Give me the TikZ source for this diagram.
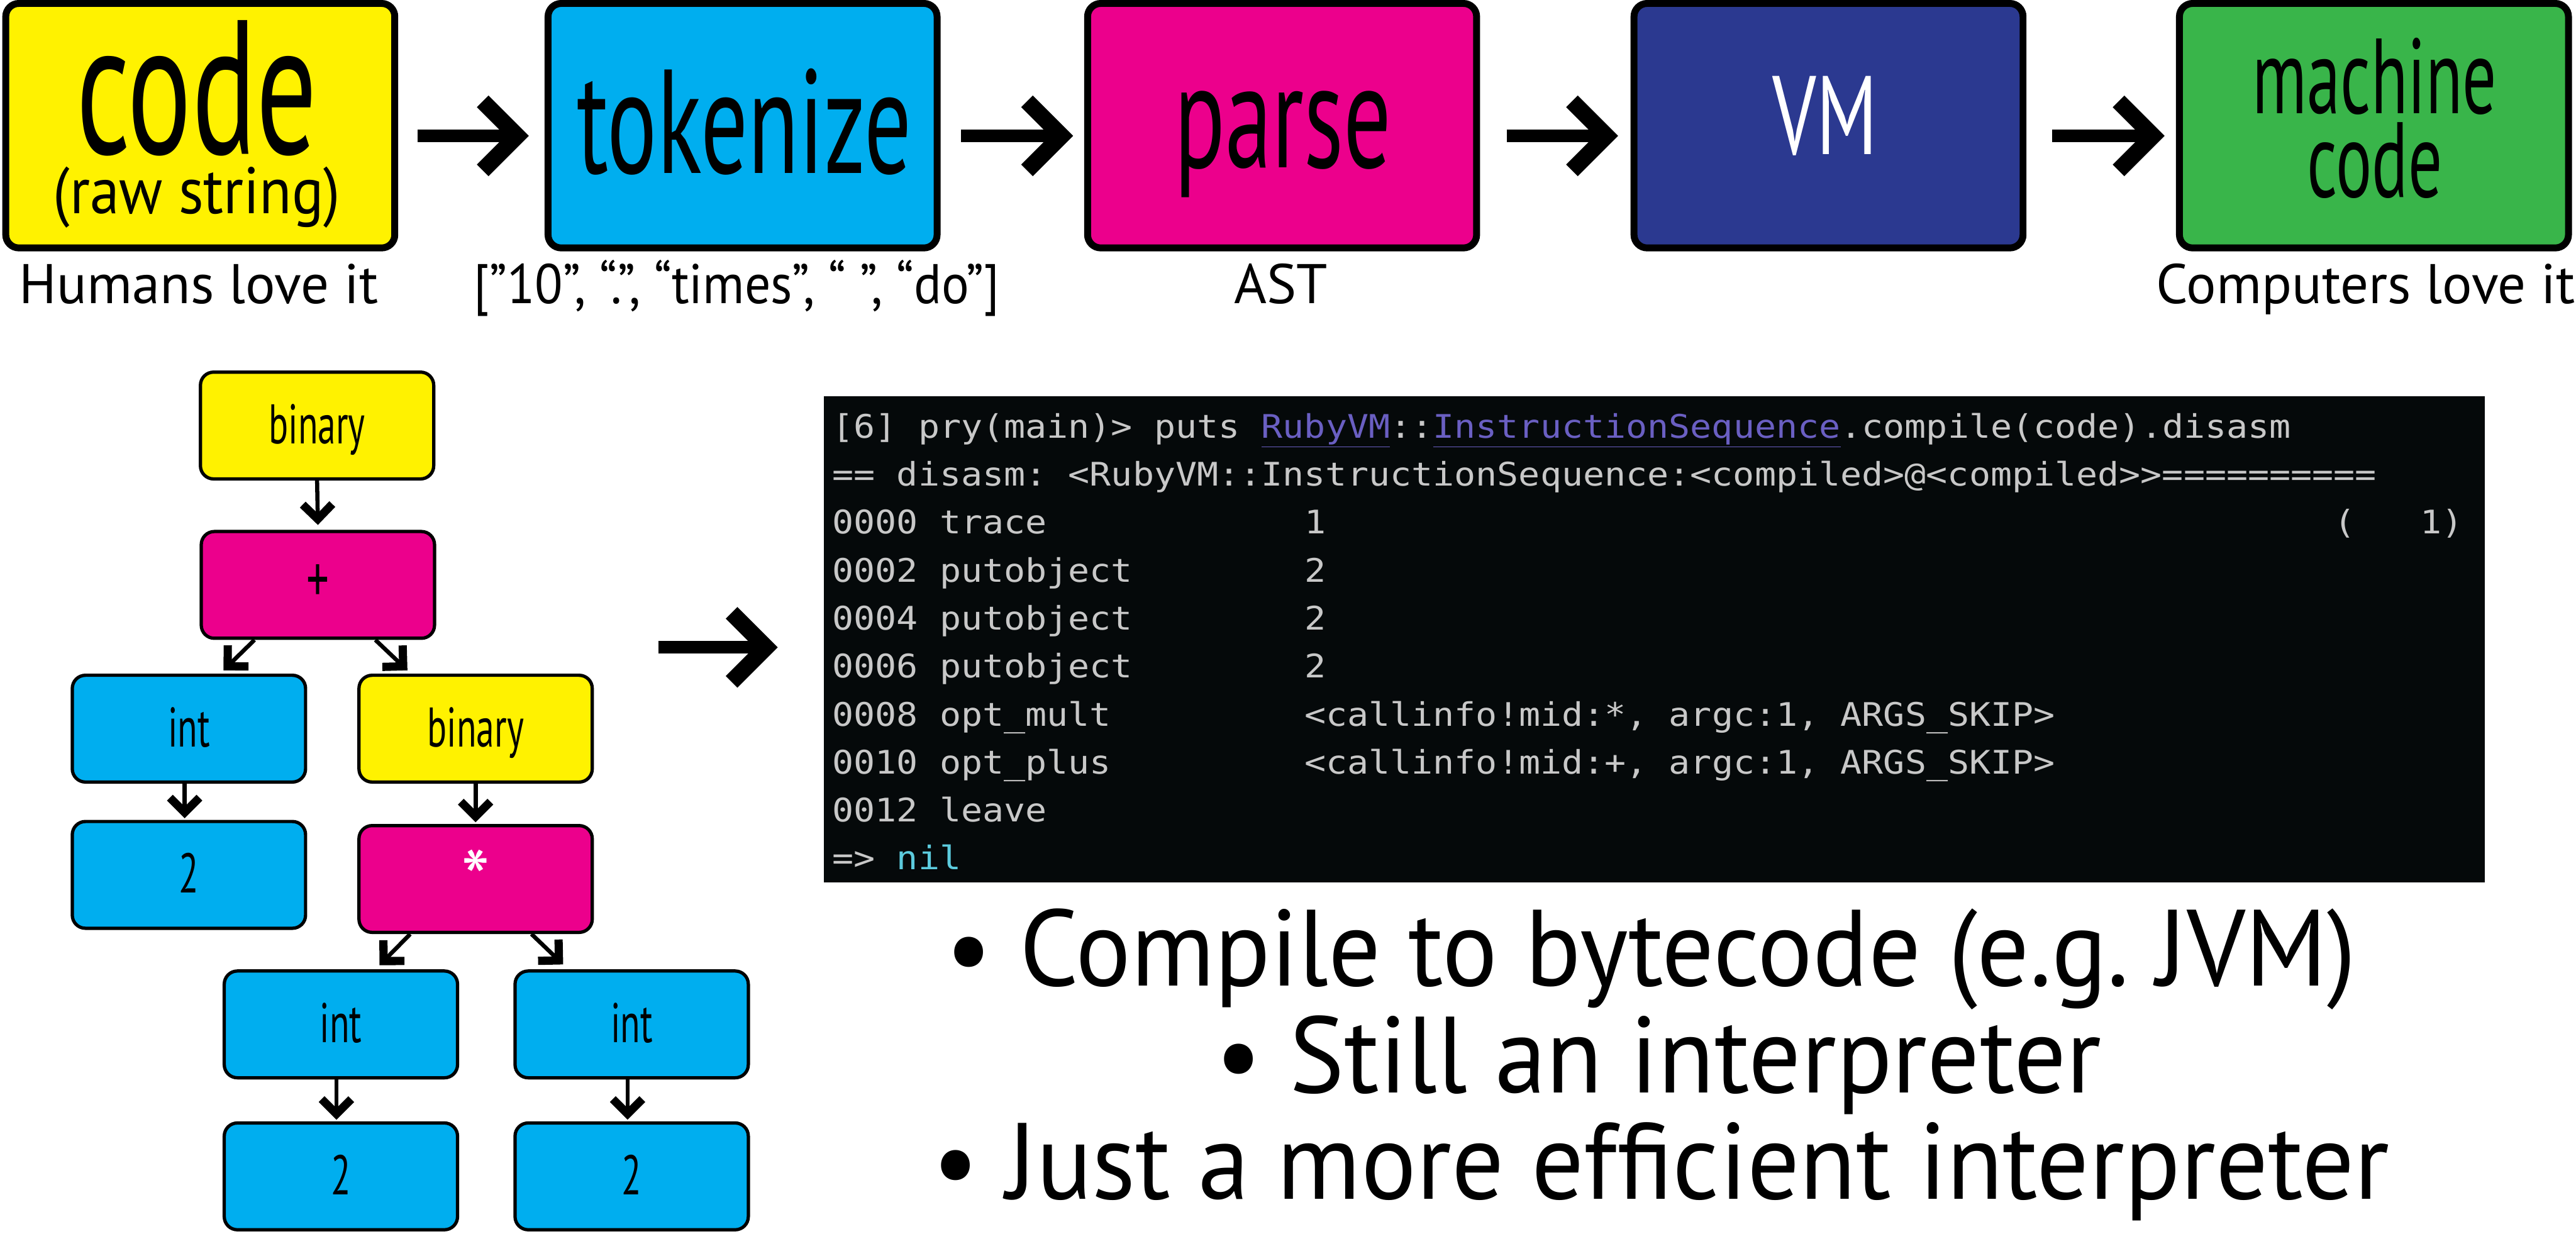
\documentclass[tikz,border=0pt]{standalone}
\usepackage{fontspec}
\setmainfont{PT Sans}
\newfontfamily\condfont[FakeStretch=0.63]{PT Sans}
\newfontfamily\vmfont[FakeStretch=0.69]{PT Sans}
\newfontfamily\rawfont[FakeStretch=0.9]{PT Sans}
\newfontfamily\tokfont[FakeStretch=0.92]{PT Sans}
\newfontfamily\bulfont[FakeStretch=0.953]{PT Sans}
\newfontfamily\treefont[FakeStretch=0.65]{PT Sans}
\newfontfamily\termfont[FakeStretch=1.098]{DejaVu Sans Mono}
\usetikzlibrary{arrows.meta}
\definecolor{cyel}{HTML}{FFF200}
\definecolor{ccyan}{HTML}{00AEEF}
\definecolor{cmag}{HTML}{EC008C}
\definecolor{cblue}{HTML}{2B3990}
\definecolor{cgreen}{HTML}{39B54A}
\definecolor{cterm}{HTML}{05090A}
\definecolor{ctgray}{HTML}{C8C8C8}
\definecolor{tpurple}{HTML}{6A5FC2}
\definecolor{tcyan}{HTML}{5CCBDD}
\newcommand{\setfs}[1]{\fontsize{#1}{#1}\selectfont}
\frenchspacing
\begin{document}
\begin{tikzpicture}[x=1pt,y=-1pt,
  topbox/.style={draw=black, line width=4.2pt, rounded corners=8pt, minimum width=236.8pt, minimum height=148.8pt, inner sep=0pt},
  treebox/.style={draw=black, line width=2pt, rounded corners=8pt, minimum width=142pt, minimum height=65pt, inner sep=0pt, text height=22pt, text depth=0pt, font=\treefont\setfs{34}},
  txt/.style={inner sep=0pt, anchor=base},
  tt/.style={inner sep=0pt, anchor=base west, text=ctgray, font=\termfont\setfs{19.75}},
  bigarrow/.style={line width=7.7pt, -{Straight Barb[length=21pt, width=42pt, line width=10pt, sharp]}},
  tarrow/.style={line width=2.5pt, -{Straight Barb[length=9pt, width=18pt, line width=5pt, sharp]}}]
\useasboundingbox (0,0) rectangle (1568,751);

% ---- top pipeline ----
\node[topbox, fill=cyel] (code) at (121.9,76.5) {};
\node[topbox, fill=ccyan] (tok) at (452,76.5) {};
\node[topbox, fill=cmag] (parse) at (780.4,76.5) {};
\node[topbox, fill=cblue] (vm) at (1113,76.5) {};
\node[topbox, fill=cgreen] (mach) at (1445,76.5) {};

\node[txt, text depth=0pt, font=\condfont\setfs{116}] (codeT) at (119.8,93.6) {code};
\node[txt, text height=26pt, font=\rawfont\setfs{40}] (rawT) at (119.8,130) {(raw string)};
\node[txt, font=\condfont\setfs{90}] (tokT) at (453,105.5) {tokenize};
\node[txt, font=\condfont\setfs{91}] (parseT) at (781,102) {parse};
\node[txt, font=\vmfont\setfs{68}, text=white] (vmT) at (1111,94) {VM};
\node[txt, text depth=0pt, font=\condfont\setfs{65}] (machT) at (1445.5,69) {machine};
\node[txt, text height=44pt, font=\condfont\setfs{65}] (machT2) at (1445.5,120) {code};

\node[txt, font=\setfs{34}] (lab1) at (121,184.8) {Humans love it};
\node[txt, font=\tokfont\setfs{34}] (lab2) at (448.5,184.8) {[”10”, “.”, “times”, “ ”, “do”]};
\node[txt, font=\setfs{34}] (lab3) at (779.6,184.8) {AST};
\node[txt, font=\setfs{34}] (lab4) at (1440,184.8) {Computers love it};

\draw[bigarrow] ([xshift=11.7pt,yshift=-6.2pt]code.east) -- ([xshift=-9.6pt,yshift=-6.2pt]tok.west);
\draw[bigarrow] ([xshift=12.4pt,yshift=-6.2pt]tok.east) -- ([xshift=-6.7pt,yshift=-6.2pt]parse.west);
\draw[bigarrow] ([xshift=16.2pt,yshift=-6.2pt]parse.east) -- ([xshift=-7.6pt,yshift=-6.2pt]vm.west);
\draw[bigarrow] ([xshift=15.6pt,yshift=-6.2pt]vm.east) -- ([xshift=-6.9pt,yshift=-6.2pt]mach.west);

% ---- tree ----
\node[treebox, fill=cyel] (bin1) at (193,259) {binary};
\node[treebox, fill=cmag] (plus) at (193.5,356) {\setfs{42}+};
\node[treebox, fill=ccyan] (intL) at (115,443.5) {int};
\node[treebox, fill=cyel] (binR) at (289.5,443.5) {binary};
\node[treebox, fill=ccyan] (twoL) at (115,532.5) {2};
\node[treebox, fill=cmag, text=white] (star) at (289.5,535) {\raisebox{-7pt}{\rmfamily\setfs{50}*}};
\node[treebox, fill=ccyan] (intBL) at (207.5,623.5) {int};
\node[treebox, fill=ccyan] (intBR) at (384.5,623.5) {int};
\node[treebox, fill=ccyan] (twoBL) at (207.5,716) {2};
\node[treebox, fill=ccyan] (twoBR) at (384.5,716) {2};

\draw[tarrow] (bin1.south) -- ([yshift=3pt]plus.north);
\draw[tarrow] ([xshift=-38.6pt]plus.south) -- ([xshift=21pt,yshift=2pt]intL.north);
\draw[tarrow] ([xshift=35pt]plus.south) -- ([xshift=-41.5pt,yshift=2pt]binR.north);
\draw[tarrow] ([xshift=-2.6pt]intL.south) -- ([xshift=-2.6pt,yshift=1pt]twoL.north);
\draw[tarrow] (binR.south) -- ([yshift=1pt]star.north);
\draw[tarrow] ([xshift=-39.8pt]star.south) -- ([xshift=23.5pt,yshift=2.5pt]intBL.north);
\draw[tarrow] ([xshift=34pt]star.south) -- ([xshift=-41.7pt,yshift=3pt]intBR.north);
\draw[tarrow] ([xshift=-2.7pt]intBL.south) -- ([xshift=-2.7pt,yshift=1pt]twoBL.north);
\draw[tarrow] ([xshift=-2.5pt]intBR.south) -- ([xshift=-2.5pt,yshift=1pt]twoBR.north);

% ---- terminal ----
\node[fill=cterm, minimum width=1011.3pt, minimum height=296pt, inner sep=0pt] (term) at (1006.95,389) {};
\coordinate (mstart) at (400.7,394);
\draw[bigarrow] (mstart) -- ([xshift=-27.7pt,yshift=-5pt]term.west);

\node[tt] (t1) at (506.5,266.6) {[6] pry(main)> puts \textcolor{tpurple}{\underline{RubyVM}}::\textcolor{tpurple}{\underline{InstructionSequence}}.compile(code).disasm};
\node[tt] (t2) at (506.5,295.8) {== disasm: <RubyVM::InstructionSequence:<compiled>@<compiled>>==========};
\node[tt] (t3a) at (506.5,325) {0000 trace};
\node[tt] (t3b) at (793.8,325) {1};
\node[tt] (t3c) at (1420.7,325) {(};
\node[tt] (t3d) at (1472.9,325) {1)};
\node[tt] (t4a) at (506.5,354.2) {0002 putobject};
\node[tt] (t4b) at (793.8,354.2) {2};
\node[tt] (t5a) at (506.5,383.4) {0004 putobject};
\node[tt] (t5b) at (793.8,383.4) {2};
\node[tt] (t6a) at (506.5,412.6) {0006 putobject};
\node[tt] (t6b) at (793.8,412.6) {2};
\node[tt] (t7a) at (506.5,441.8) {0008 opt\_mult};
\node[tt] (t7b) at (793.8,441.8) {<callinfo!mid:*, argc:1, ARGS\_SKIP>};
\node[tt] (t8a) at (506.5,471) {0010 opt\_plus};
\node[tt] (t8b) at (793.8,471) {<callinfo!mid:+, argc:1, ARGS\_SKIP>};
\node[tt] (t9a) at (506.5,500.2) {0012 leave};
\node[tt] (t10a) at (506.5,529.4) {=> \textcolor{tcyan}{nil}};

% ---- bullets ----
\node[txt, font=\bulfont\setfs{66}] (b1) at (1005,600) {• Compile to bytecode (e.g. JVM)};
\node[txt, font=\bulfont\setfs{66}] (b2) at (1009.5,665) {• Still an interpreter};
\node[txt, font=\bulfont\setfs{66}] (b3) at (1011,730) {• Just a more efficient interpreter};
\end{tikzpicture}
\end{document}
